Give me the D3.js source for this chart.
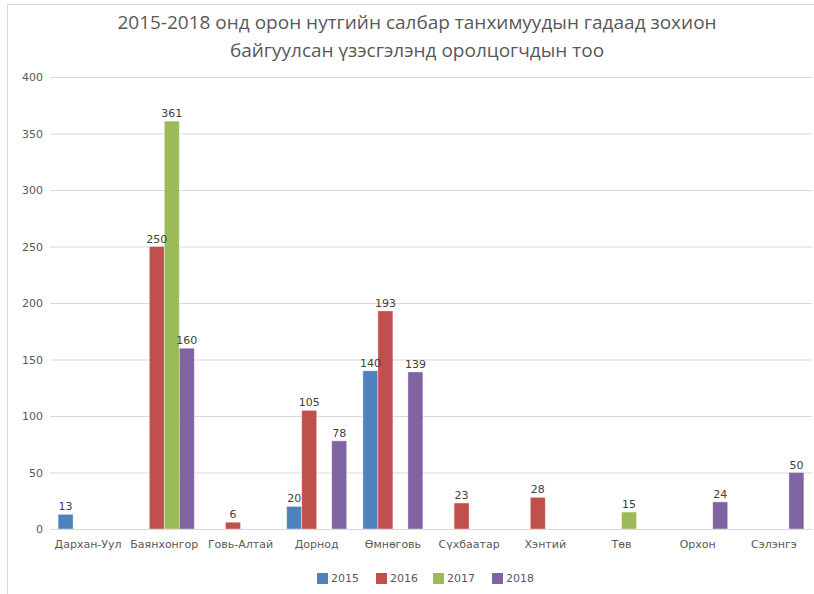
<!DOCTYPE html>
<html>
<head>
<meta charset="utf-8">
<script src="https://cdn.jsdelivr.net/npm/d3@7"></script>
<style>
  body { margin: 0; background: #fff; }
  svg text { font-family: 'DejaVu Sans', sans-serif; }
</style>
</head>
<body>
<div id="chart"></div>
<script>
const categories = ['Дархан-Уул', 'Баянхонгор', 'Говь-Алтай', 'Дорнод', 'Өмнөговь', 'Сүхбаатар', 'Хэнтий', 'Төв', 'Орхон', 'Сэлэнгэ'];
const years = ['2015', '2016', '2017', '2018'];
// null = no bar for that year
const values2015 = [13, null, null, 20, 140, null, null, null, null, null];
const values2016 = [null, 250, 6, 105, 193, 23, 28, null, null, null];
const values2017 = [null, 361, null, null, null, null, null, 15, null, null];
const values2018 = [null, 160, null, 78, 139, null, null, null, 24, 50];
const yTicks = [0, 50, 100, 150, 200, 250, 300, 350, 400];
const titleLines = ['2015-2018 онд орон нутгийн салбар танхимуудын гадаад зохион', 'байгуулсан үзэсгэлэнд оролцогчдын тоо'];

const colours = { '2015': '#4f81bd', '2016': '#c0504d', '2017': '#9bbb59', '2018': '#8064a2' };
const seriesValues = { '2015': values2015, '2016': values2016, '2017': values2017, '2018': values2018 };

const width = 814;
const height = 594;
const plot = { left: 50, right: 812, top: 77, bottom: 529 };

const svg = d3.select('#chart').append('svg').attr('width', width).attr('height', height);

// chart frame
svg.append('path')
  .attr('d', `M7.5,${height}V4.5H${width}`)
  .attr('fill', 'none')
  .attr('stroke', '#d9d9d9');

svg.append('g')
  .selectAll('text')
  .data(titleLines)
  .join('text')
  .attr('x', 417)
  .attr('y', (d, i) => 29 + i * 28)
  .attr('text-anchor', 'middle')
  .attr('fill', '#595959')
  .style('font-family', "'Open Sans', sans-serif")
  .style('font-size', '19px')
  .text((d) => d);

const x0 = d3.scaleBand()
  .domain(categories)
  .range([plot.left, plot.right])
  .paddingInner(0.2126)
  .paddingOuter(0.1063);

const x1 = d3.scaleBand().domain(years).range([0, x0.bandwidth()]);

const y = d3.scaleLinear().domain([0, 400]).range([plot.bottom, plot.top]);

svg.append('g')
  .attr('transform', `translate(${plot.left},0)`)
  .call(d3.axisLeft(y).tickValues(yTicks).tickSize(-(plot.right - plot.left)).tickPadding(7))
  .call((g) => g.select('.domain').remove())
  .call((g) => g.selectAll('line').attr('stroke', '#d9d9d9'))
  .call((g) => g.selectAll('text').attr('fill', '#595959').style('font-size', '11px'));

const barData = [];
categories.forEach((c, i) => {
  years.forEach((yr) => {
    const v = seriesValues[yr][i];
    if (v !== null) barData.push({ category: c, year: yr, value: v });
  });
});

svg.append('g')
  .selectAll('rect')
  .data(barData)
  .join('rect')
  .attr('x', (d) => x0(d.category) + x1(d.year))
  .attr('y', (d) => y(d.value))
  .attr('width', x1.bandwidth())
  .attr('height', (d) => y(0) - y(d.value))
  .attr('fill', (d) => colours[d.year])
  .attr('stroke', '#ffffff')
  .attr('stroke-opacity', 0.5)
  .attr('stroke-width', 0.8);

svg.append('g')
  .selectAll('text')
  .data(barData)
  .join('text')
  .attr('x', (d) => x0(d.category) + x1(d.year) + x1.bandwidth() / 2)
  .attr('y', (d) => y(d.value) - 4)
  .attr('text-anchor', 'middle')
  .attr('fill', '#404040')
  .style('font-size', '11px')
  .text((d) => d.value);

svg.append('g')
  .attr('transform', `translate(0,${plot.bottom})`)
  .call(d3.axisBottom(x0).tickSize(0).tickPadding(11))
  .call((g) => g.select('.domain').attr('stroke', '#d9d9d9'))
  .call((g) => g.selectAll('text').attr('fill', '#595959').style('font-size', '11px'));

const legendX = [317, 376, 433, 492];
const legend = svg.append('g').attr('transform', 'translate(0,578)');
years.forEach((yr, i) => {
  const item = legend.append('g').attr('transform', `translate(${legendX[i]},0)`);
  item.append('rect').attr('y', -5).attr('width', 11).attr('height', 11).attr('fill', colours[yr]);
  item.append('text')
    .attr('x', 14)
    .attr('y', 0)
    .attr('dominant-baseline', 'central')
    .attr('fill', '#595959')
    .style('font-size', '11px')
    .text(yr);
});
</script>
</body>
</html>
